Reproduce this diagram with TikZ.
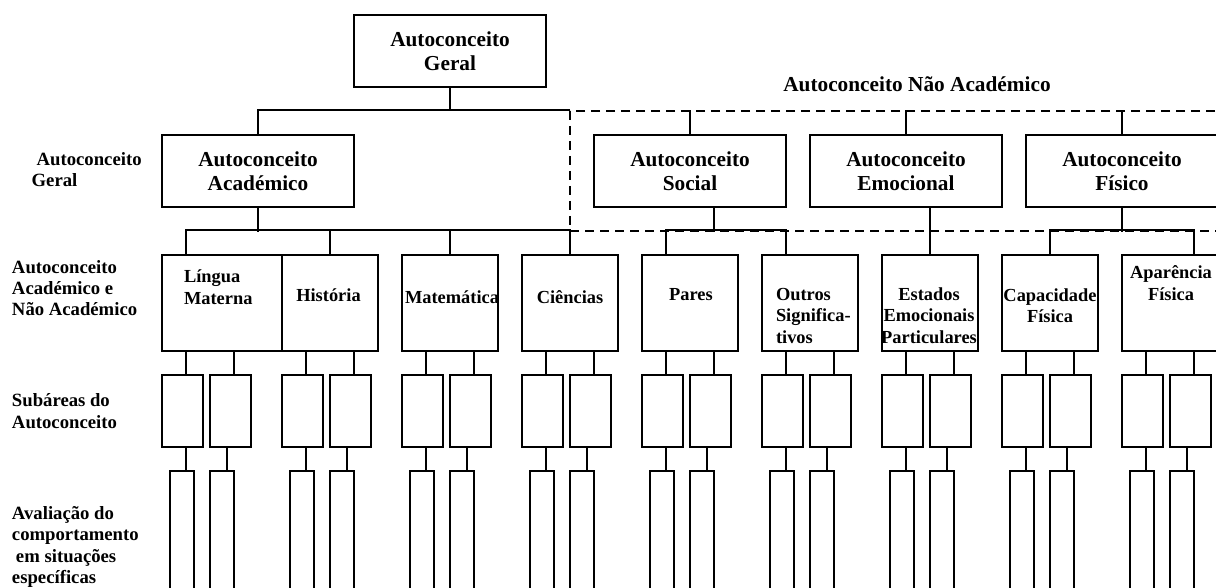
\documentclass[tikz,border=0pt]{standalone}
\usepackage{fontspec}
\setmainfont{Liberation Serif}
\usetikzlibrary{calc}

\tikzset{
  topbox/.style={draw, minimum width=192pt, minimum height=72pt, inner sep=2pt, align=center, font=\bfseries\fontsize{21.3}{24.3}\selectfont},
  hdtxt/.style={anchor=base, inner sep=0pt, font=\bfseries\fontsize{21.3}{24.3}\selectfont},
  midbox/.style={draw, minimum width=96pt, minimum height=96pt, inner sep=0pt},
  midtxt/.style={anchor=base, align=center, inner sep=0pt, font=\bfseries\fontsize{18.4}{21.6}\selectfont},
  subbox/.style={draw, minimum width=41pt, minimum height=72pt, inner sep=0pt},
  evalbox/.style={draw, minimum width=24pt, minimum height=140pt, inner sep=0pt},
  sidetxt/.style={anchor=base west, align=left, inner sep=0pt, font=\bfseries\fontsize{18.7}{21.3}\selectfont},
  grpline/.style={dash pattern=on 9pt off 6pt, line width=1.8pt}
}

\begin{document}
\begin{tikzpicture}[x=1pt, y=-1pt, line width=2pt]
\useasboundingbox (0,0) rectangle (1216,588);
\clip (0,0) rectangle (1216,588);

\node[topbox] (geral) at (450,51) {Autoconceito\\Geral};
\node[topbox] (acad) at (258,171) {Autoconceito\\Académico};
\node[topbox] (social) at (690,171) {Autoconceito\\Social};
\node[topbox] (emoc) at (906,171) {Autoconceito\\Emocional};
\node[topbox] (fisico) at (1122,171) {Autoconceito\\Físico};
\node[hdtxt] (naoacad) at (917,91.7) {Autoconceito Não Académico};

\draw[grpline] (1230,111) -| (570,231) -- (1230,231);

\node[midbox, minimum width=120pt] (lin) at (222,303) {};
\node[midbox] (his) at (330,303) {};
\node[midbox] (mat) at (450,303) {};
\node[midbox] (cie) at (570,303) {};
\node[midbox] (par) at (690,303) {};
\node[midbox] (out) at (810,303) {};
\node[midbox] (est) at (930,303) {};
\node[midbox] (cap) at (1050,303) {};
\node[midbox] (apa) at (1170,303) {};

\draw (geral.south) -- ([yshift=24pt]geral.south |- acad.north);
\draw (acad.north) -- ++(0,-24) -- ([yshift=24pt]cie.north |- acad.north);
\draw (social.north) -- ++(0,-24);
\draw (emoc.north) -- ++(0,-24);
\draw (fisico.north) -- ++(0,-24);

\node[midtxt, anchor=base west, align=left] (lin-t) at (183,304.5) {Língua\\Materna};
\node[midtxt] (his-t) at (328.5,301.7) {História};
\node[midtxt] (mat-t) at (452,303) {Matemática};
\node[midtxt] (cie-t) at (570,303) {Ciências};
\node[midtxt] (par-t) at (691,300) {Pares};
\node[midtxt, anchor=base west, align=left] (out-t) at (775,343.3) {Outros\\Significa-\\tivos};
\node[midtxt] (est-t) at (929,343.3) {Estados\\Emocionais\\Particulares};
\node[midtxt] (cap-t) at (1050,323) {Capacidade\\Física};
\node[midtxt] (apa-t) at (1171,300) {Aparência\\Física};

\draw (acad.south) -- ++(0,24);
\draw ([xshift=-36pt]lin.north) -- ++(0,-24) -| (cie.north);
\draw (his.north) -- ++(0,-24);
\draw (mat.north) -- ++(0,-24);
\draw ([xshift=24pt]social.south) -- ++(0,24);
\draw ([xshift=-24pt]par.north) -- ++(0,-24) -| ([xshift=-24pt]out.north);
\draw ([xshift=24pt]emoc.south) -- (est.north);
\draw (fisico.south) -- ++(0,24);
\draw (cap.north) -- ++(0,-24) -| ([xshift=24pt]apa.north);

\foreach \L/\n in {162/lin,282/his,402/mat,522/cie,642/par,762/out,882/est,1002/cap,1122/apa}{
  \node[subbox] (\n-s1) at (\L+20.5,411) {};
  \node[subbox] (\n-s2) at (\L+68.5,411) {};
  \node[evalbox] (\n-e1) at (\L+19.5,541) {};
  \node[evalbox] (\n-e2) at (\L+59.5,541) {};
  \draw ([xshift=3.5pt]\n-s1.north) -- ([xshift=3.5pt]\n-s1.north |- \n.south);
  \draw ([xshift=3.5pt]\n-s2.north) -- ([xshift=3.5pt]\n-s2.north |- \n.south);
  \draw ([xshift=3.5pt]\n-s1.south) -- ([xshift=3.5pt]\n-s1.south |- \n-e1.north);
  \draw ([xshift=-3.5pt]\n-s2.south) -- ([xshift=-3.5pt]\n-s2.south |- \n-e2.north);
}

\node[sidetxt] (side1) at (30.7,187) {\hspace*{5pt}Autoconceito\\Geral};
\node[sidetxt] (side2) at (11,316) {Autoconceito\\Académico e\\Não Académico};
\node[sidetxt] (side3) at (11,428) {Subáreas do\\Autoconceito};
\node[sidetxt] (side4) at (11,583.5) {Avaliação do\\comportamento\\\hspace*{4pt}em situações\\específicas};
\end{tikzpicture}
\end{document}
